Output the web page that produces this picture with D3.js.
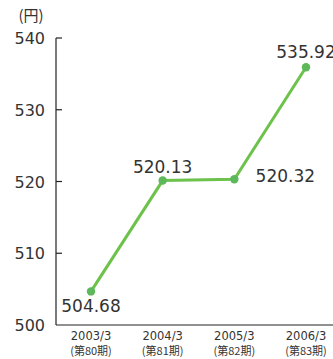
<!DOCTYPE html>
<html><head><meta charset="utf-8">
<script src="https://cdn.jsdelivr.net/npm/d3@7"></script>
<style>body{margin:0;background:#fff}svg{display:block}</style>
</head><body><svg id="c" width="333" height="359"></svg>
<script>
const periods = ["2003/3","2004/3","2005/3","2006/3"];
const subLabels = ["(第80期)","(第81期)","(第82期)","(第83期)"];
const values = [504.68, 520.13, 520.32, 535.92];
const valueLabels = ["504.68","520.13","520.32","535.92"];
const yTicks = [500,510,520,530,540];
const unitLabel = "(円)";

const svg = d3.select("#c");
const font = "'DejaVu Sans', sans-serif";
const y = d3.scaleLinear().domain([500,540]).range([325,38]);
const x = d3.scalePoint().domain(periods).range([91,306]);
const axisX = 56;

// y axis
svg.append("line").attr("x1",axisX).attr("x2",axisX).attr("y1",y(540)).attr("y2",y(500)).attr("stroke","#222").attr("stroke-width",1.2);
svg.append("line").attr("x1",axisX).attr("x2",333).attr("y1",y(500)).attr("y2",y(500)).attr("stroke","#222").attr("stroke-width",1.2);
yTicks.forEach(t=>{
  if(t!==500) svg.append("line").attr("x1",axisX).attr("x2",axisX+6).attr("y1",y(t)).attr("y2",y(t)).attr("stroke","#222").attr("stroke-width",1.2);
  svg.append("text").attr("x",45).attr("y",y(t)+6).attr("text-anchor","end")
    .attr("font-family",font).attr("font-size",16).attr("fill","#333").text(t);
});
svg.append("text").attr("x",31).attr("y",21).attr("text-anchor","middle")
  .attr("font-family","'Noto Sans CJK JP', sans-serif").attr("font-size",15).attr("fill","#333").text(unitLabel);

// x labels
periods.forEach((p,i)=>{
  svg.append("text").attr("x",x(p)).attr("y",340).attr("text-anchor","middle")
    .attr("font-family",font).attr("font-size",11.5).attr("fill","#333").text(p);
  svg.append("text").attr("x",x(p)).attr("y",355).attr("text-anchor","middle")
    .attr("font-family","'Noto Sans CJK JP', sans-serif").attr("font-size",11).attr("fill","#333").text(subLabels[i]);
});

// line
const line = d3.line().x((d,i)=>x(periods[i])).y(d=>y(d));
svg.append("path").datum(values).attr("d",line).attr("fill","none").attr("stroke","#6cc24a").attr("stroke-width",3);
svg.selectAll("circle.p").data(values).enter().append("circle")
  .attr("cx",(d,i)=>x(periods[i])).attr("cy",d=>y(d)).attr("r",4.2).attr("fill","#5cb85a");

// value labels
const offs = [[0,21],[0,-8],[51,3],[0,-9]];
values.forEach((v,i)=>{
  svg.append("text").attr("x",x(periods[i])+offs[i][0]).attr("y",y(v)+offs[i][1]).attr("text-anchor","middle")
    .attr("font-family",font).attr("font-size",17).attr("fill","#333").text(valueLabels[i]);
});
</script></body></html>
